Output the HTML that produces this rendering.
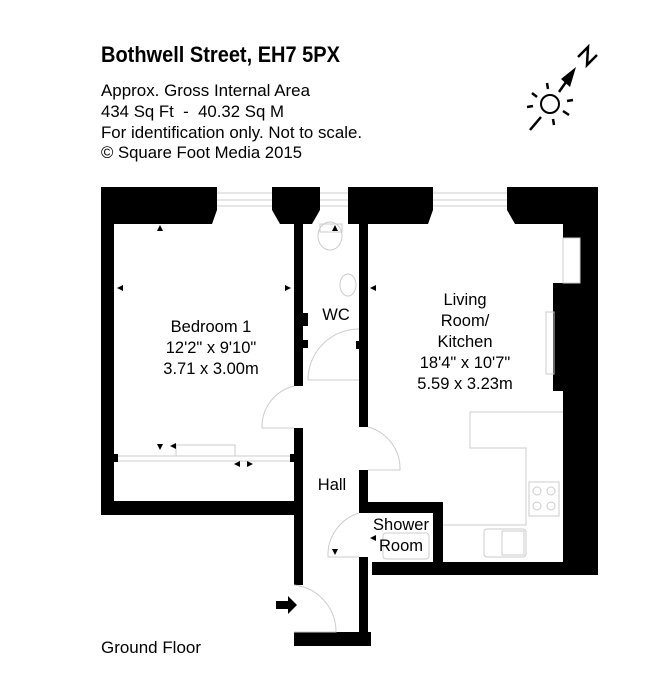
<!DOCTYPE html>
<html><head><meta charset="utf-8"><style>html,body{margin:0;padding:0;background:#fff}svg{display:block}</style></head><body>
<svg width="670" height="694" viewBox="0 0 670 694" xmlns="http://www.w3.org/2000/svg" font-family="Liberation Sans, sans-serif">
<text x="101" y="62" font-size="22" font-weight="bold" textLength="239" lengthAdjust="spacingAndGlyphs">Bothwell Street, EH7 5PX</text>
<g font-size="17">
<text x="101" y="96" textLength="209" lengthAdjust="spacingAndGlyphs">Approx. Gross Internal Area</text>
<text x="101" y="117" textLength="183" lengthAdjust="spacingAndGlyphs" xml:space="preserve">434 Sq Ft  -  40.32 Sq M</text>
<text x="101" y="138" textLength="261" lengthAdjust="spacingAndGlyphs">For identification only. Not to scale.</text>
<text x="101" y="158" textLength="201" lengthAdjust="spacingAndGlyphs">© Square Foot Media 2015</text>
<text x="101" y="653" textLength="100" lengthAdjust="spacingAndGlyphs">Ground Floor</text>
</g>
<!-- compass -->
<g stroke="#000" stroke-width="2.5" fill="none">
<circle cx="550" cy="104" r="9" stroke-width="2"/>
<line x1="530" y1="130" x2="541" y2="117"/>
<line x1="559" y1="92" x2="566" y2="82"/>
<line x1="547" y1="83" x2="548" y2="89"/><line x1="553" y1="119" x2="554" y2="125"/>
<line x1="532" y1="93" x2="537" y2="97"/><line x1="563" y1="111" x2="569" y2="115"/>
<line x1="527" y1="107" x2="533" y2="106"/><line x1="567" y1="101" x2="573" y2="100"/>
<polyline points="578,57 588,47 587,65 597,55" stroke-width="2.5" stroke-linejoin="miter"/>
</g>
<polygon points="576,67 561,79 570,87" fill="#000"/>
<!-- walls -->
<g fill="#000">
<rect x="101" y="187" width="13" height="328"/>
<polygon points="101,187 217,187 217,210 212,224 101,224"/>
<polygon points="272,187 320,187 320,210 312,224 280,224 272,210"/>
<polygon points="348,187 433,187 433,210 428,224 348,224"/>
<polygon points="507,187 598,187 598,575 372,575 372,562 563,562 563,391 553,391 553,283 563,283 563,224 515,224 507,210"/>
<rect x="101" y="501" width="202" height="14"/>
<rect x="294" y="224" width="9" height="162"/>
<rect x="294" y="428" width="9" height="157"/>
<rect x="294" y="632" width="77" height="14"/>
<rect x="359" y="224" width="9" height="203"/>
<rect x="359" y="470" width="9" height="43"/>
<rect x="359" y="557" width="9" height="89"/>
<rect x="359" y="502" width="84" height="11"/>
<rect x="433" y="502" width="10" height="65"/>
<rect x="303" y="313" width="5" height="13"/><rect x="303" y="340" width="5" height="8"/><rect x="356" y="341" width="3" height="8"/>
<rect x="114" y="454" width="4" height="8"/><rect x="290" y="454" width="4" height="8"/>
<polygon points="276,601 288,601 288,596 297,605 288,614 288,609 276,609"/>
</g>
<rect x="563" y="238" width="17" height="45" fill="#fff" stroke="#ccc"/>
<!-- windows -->
<g stroke="#ccc" stroke-width="1" fill="none">
<line x1="217" y1="193" x2="272" y2="193"/><line x1="217" y1="200" x2="272" y2="200"/><line x1="217" y1="206" x2="272" y2="206"/>
<line x1="320" y1="193" x2="348" y2="193"/><line x1="320" y1="200" x2="348" y2="200"/><line x1="320" y1="206" x2="348" y2="206"/>
<line x1="433" y1="193" x2="507" y2="193"/><line x1="433" y1="200" x2="507" y2="200"/><line x1="433" y1="206" x2="507" y2="206"/>
<line x1="118" y1="456" x2="290" y2="456"/><line x1="118" y1="461" x2="290" y2="461"/>
<polyline points="176,456 176,445 235,445 235,456"/>
<ellipse cx="330" cy="236" rx="12" ry="14"/><rect x="320" y="224" width="22" height="8"/>
<ellipse cx="348" cy="285" rx="8" ry="11"/>
<path d="M308,380 A51,51 0 0 1 359,329"/><line x1="308" y1="380" x2="359" y2="380"/>
<path d="M294,386 A42,42 0 0 0 262,428 L294,428"/>
<path d="M368,427 A43,43 0 0 1 400,470 L368,470"/>
<path d="M359,513 A44,44 0 0 0 328,557 L359,557"/>
<path d="M294,585 A47,47 0 0 1 336,632 L294,632"/>
<polyline points="563,412 470,412 470,448 526,448 526,525 443,525"/>
<rect x="529" y="482" width="30" height="34"/>
<circle cx="537" cy="491" r="4"/><circle cx="551" cy="491" r="4"/><circle cx="537" cy="506" r="4"/><circle cx="551" cy="506" r="4"/>
<rect x="484" y="529" width="42" height="28" rx="3"/><rect x="502" y="531" width="22" height="24"/>
<rect x="546" y="312" width="8" height="62"/>
<rect x="383" y="533" width="46" height="26" rx="3"/>
</g>
<g fill="#000">
<polygon points="160,225 157,231 163,231"/>
<polygon points="117,288 123,285 123,291"/><polygon points="291,288 285,285 285,291"/>
<polygon points="370,288 376,285 376,291"/><polygon points="561,288 555,285 555,291"/>
<polygon points="335,225 332,231 338,231"/><polygon points="335,555 332,549 338,549"/>
<polygon points="160,450 157,444 163,444"/><polygon points="170,446 176,443 176,449"/>
<polygon points="253,464 247,461 247,467"/><polygon points="234,464 240,461 240,467"/>
<polygon points="370,538 376,535 376,541"/>
</g>
<g font-size="16.5" text-anchor="middle">
<text x="211" y="332">Bedroom 1</text>
<text x="211" y="353">12'2" x 9'10"</text>
<text x="211" y="374">3.71 x 3.00m</text>
<text x="336" y="320">WC</text>
<text x="465" y="305">Living</text>
<text x="465" y="326">Room/</text>
<text x="465" y="347">Kitchen</text>
<text x="465" y="368">18'4" x 10'7"</text>
<text x="465" y="389">5.59 x 3.23m</text>
<text x="332" y="490">Hall</text>
<text x="401" y="530">Shower</text>
<text x="401" y="551">Room</text>
</g>
</svg>
</body></html>
